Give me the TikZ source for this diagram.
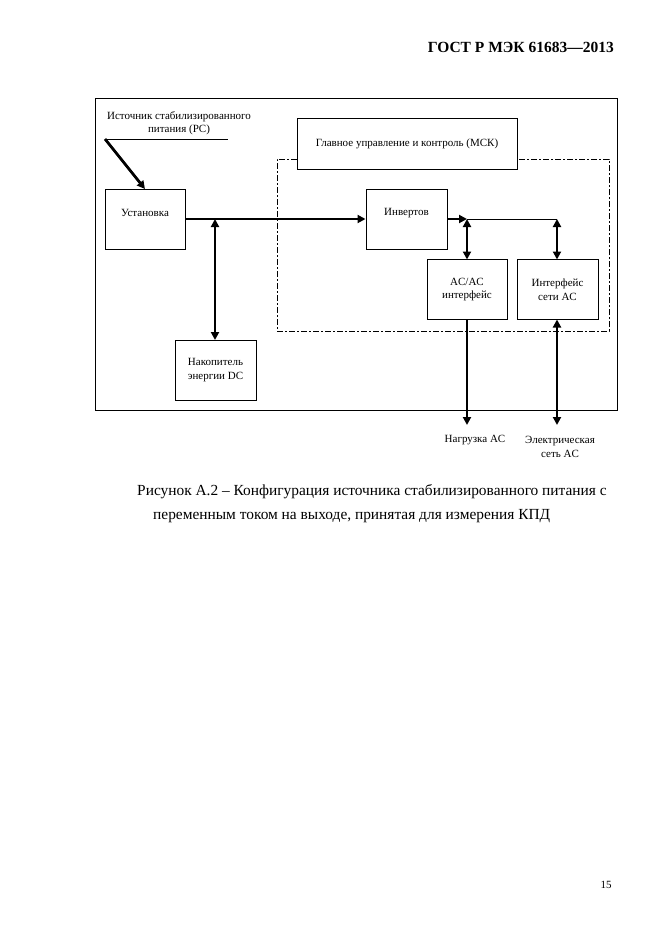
\documentclass[tikz,border=0pt]{standalone}
\usepackage{fontspec}
\setmainfont{Liberation Serif}
\usetikzlibrary{arrows.meta}
\begin{document}
\begin{tikzpicture}[x=1pt,y=-1pt,
  blk/.style={draw,line width=1pt,inner sep=0pt},
  lbl/.style={font=\fontsize{11}{13.5}\selectfont,align=center,inner sep=0pt},
  thk/.style={line width=2.8pt},
  tip/.style={-{Triangle[length=8pt,width=8pt]}},
  dtip/.style={{Triangle[length=8pt,width=8pt]}-{Triangle[length=8pt,width=8pt]}}
]
\useasboundingbox[fill=white] (0,0) rectangle (661,935);
% header
\node[anchor=east,font=\bfseries\fontsize{15.5}{18}\selectfont,inner sep=0pt] (hdr) at (614,47) {ГОСТ Р МЭК 61683—2013};
% outer frame
\node[blk,minimum width=522pt,minimum height=312pt] (frame) at (356,254) {};
% dashed region
\node[draw,line width=1pt,dash pattern=on 6pt off 2pt on 2pt off 2pt,minimum width=332pt,minimum height=172pt,inner sep=0pt] (dash) at (443,245) {};
% main control
\node[blk,fill=white,minimum width=220pt,minimum height=51pt] (mck) at (407,143.5) {};
\node[lbl] at (mck.center) {Главное управление и контроль (МСК)};
% source label
\node[lbl] (src) at (179,123) {Источник стабилизированного\\питания (PC)};
\coordinate (srcL) at (105,139);
\coordinate (srcR) at (228,139);
\draw[line width=0.8pt] (srcL) -- (srcR);
% blocks
\node[blk,minimum width=80pt,minimum height=60pt] (ust) at (145,219) {};
\node[lbl] at (145,213) {Установка};
\node[blk,minimum width=81pt,minimum height=60pt] (inv) at (406.5,219) {};
\node[lbl] at (406.5,213) {Инвертов};
\node[blk,minimum width=81pt,minimum height=60pt] (nak) at (215.5,370) {};
\node[lbl] at (nak.center) {Накопитель\\энергии DC};
\node[blk,minimum width=80pt,minimum height=60pt] (acac) at (467,289.5) {};
\node[lbl] at (acac.center) {AC/AC\\интерфейс};
\node[blk,minimum width=81pt,minimum height=60pt] (grid) at (557.5,289.5) {};
\node[lbl] at (grid.center) {Интерфейс\\сети AC};
% output labels
\node[lbl] (load) at (475,440) {Нагрузка AC};
\node[lbl] (net) at (560,447) {Электрическая\\сеть AC};
% connectors
\draw[thk,tip] (srcL) -- (145,189);
\draw[thk,tip] (ust.east) -- (inv.west);
\coordinate (j1) at (215,219);
\draw[thk,dtip] (j1) -- (215,340);
\coordinate (j2) at (467,219);
\coordinate (j3) at (557,219);
\draw[thk,tip] (inv.east) -- (j2);
\draw[line width=1pt] (j2) -- (j3);
\draw[thk,dtip] (j2) -- (467,259.5);
\draw[thk,dtip] (j3) -- (557,259.5);
\coordinate (o1) at (467,425);
\coordinate (o2) at (557,425);
\draw[thk,tip] (467,319.5) -- (o1);
\draw[thk,dtip] (557,319.5) -- (o2);
% caption
\node[anchor=west,font=\fontsize{15.4}{18}\selectfont,inner sep=0pt] (cap1) at (137,492) {Рисунок А.2 – Конфигурация источника стабилизированного питания с};
\node[anchor=west,font=\fontsize{15.4}{18}\selectfont,inner sep=0pt] (cap2) at (153,516) {переменным током на выходе, принятая для измерения КПД};
% page number
\node[font=\fontsize{11}{13}\selectfont,inner sep=0pt] (pg) at (606,885) {15};
\end{tikzpicture}
\end{document}
